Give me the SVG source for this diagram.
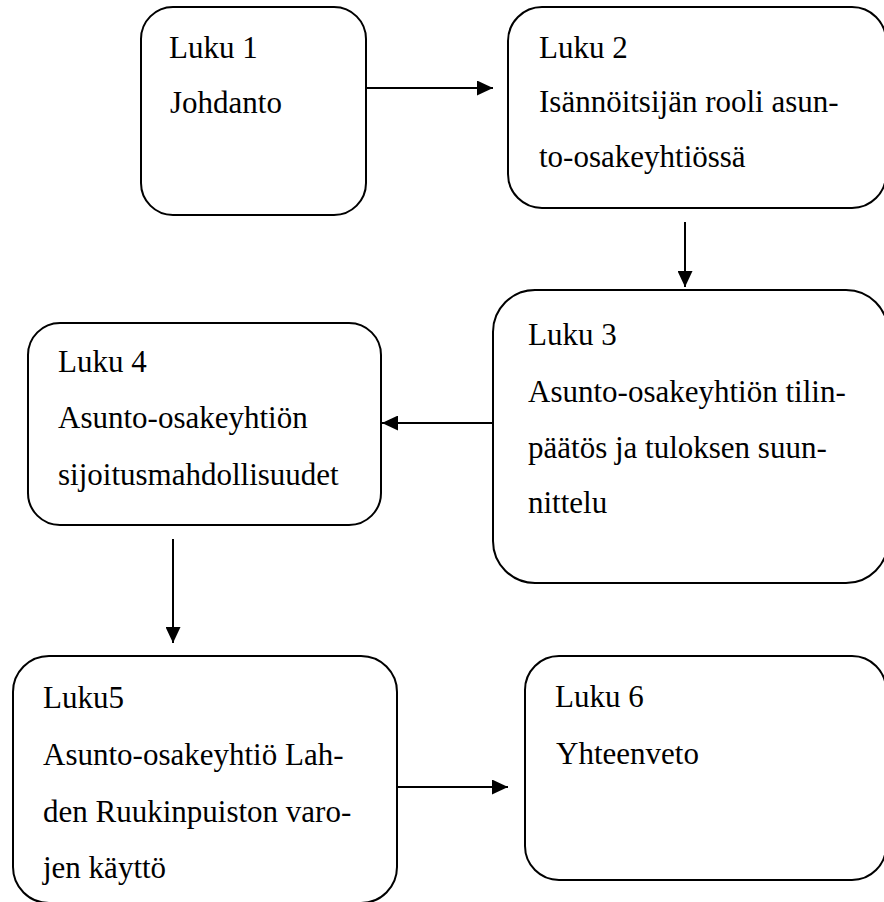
<svg xmlns="http://www.w3.org/2000/svg" width="884" height="902" viewBox="0 0 884 902">
<defs>
<marker id="ah" markerWidth="16" markerHeight="15" refX="16" refY="7.5" orient="auto" markerUnits="userSpaceOnUse">
<path d="M0,0 L16,7.5 L0,15 Z" fill="#000"/>
</marker>
</defs>
<rect width="884" height="902" fill="#fff"/>
<g id="connectors" stroke="#000" stroke-width="2" fill="none">
<line x1="366" y1="88" x2="493" y2="88" marker-end="url(#ah)"/>
<line x1="685" y1="222" x2="685" y2="287" marker-end="url(#ah)"/>
<line x1="493" y1="423" x2="382" y2="423" marker-end="url(#ah)"/>
<line x1="173" y1="539" x2="173" y2="643" marker-end="url(#ah)"/>
<line x1="397" y1="787" x2="508" y2="787" marker-end="url(#ah)"/>
</g>
<g id="node1">
<rect x="141" y="7" width="225" height="208" rx="32" ry="32" fill="#fff" stroke="#000" stroke-width="2"/>
<text x="169" y="58" font-family="Liberation Serif, Times New Roman, serif" font-size="31">Luku 1</text>
<text x="170" y="113" font-family="Liberation Serif, Times New Roman, serif" font-size="31">Johdanto</text>
</g>
<g id="node2">
<rect x="508" y="7" width="378" height="201" rx="34" ry="34" fill="#fff" stroke="#000" stroke-width="2"/>
<text x="539" y="58" font-family="Liberation Serif, Times New Roman, serif" font-size="31">Luku 2</text>
<text x="539" y="112" font-family="Liberation Serif, Times New Roman, serif" font-size="31">Isännöitsijän rooli asun-</text>
<text x="539" y="167" font-family="Liberation Serif, Times New Roman, serif" font-size="31">to-osakeyhtiössä</text>
</g>
<g id="node3">
<rect x="493" y="290" width="395" height="293" rx="42" ry="42" fill="#fff" stroke="#000" stroke-width="2"/>
<text x="528" y="345" font-family="Liberation Serif, Times New Roman, serif" font-size="31">Luku 3</text>
<text x="528" y="402" font-family="Liberation Serif, Times New Roman, serif" font-size="31">Asunto-osakeyhtiön tilin-</text>
<text x="528" y="458" font-family="Liberation Serif, Times New Roman, serif" font-size="31">päätös ja tuloksen suun-</text>
<text x="528" y="513" font-family="Liberation Serif, Times New Roman, serif" font-size="31">nittelu</text>
</g>
<g id="node4">
<rect x="28" y="323" width="353" height="202" rx="32" ry="32" fill="#fff" stroke="#000" stroke-width="2"/>
<text x="58" y="372" font-family="Liberation Serif, Times New Roman, serif" font-size="31">Luku 4</text>
<text x="58" y="428" font-family="Liberation Serif, Times New Roman, serif" font-size="31">Asunto-osakeyhtiön</text>
<text x="58" y="485" font-family="Liberation Serif, Times New Roman, serif" font-size="31">sijoitusmahdollisuudet</text>
</g>
<g id="node5">
<rect x="13" y="656" width="384" height="247" rx="36" ry="36" fill="#fff" stroke="#000" stroke-width="2"/>
<text x="43" y="708" font-family="Liberation Serif, Times New Roman, serif" font-size="31">Luku5</text>
<text x="43" y="765" font-family="Liberation Serif, Times New Roman, serif" font-size="31">Asunto-osakeyhtiö Lah-</text>
<text x="43" y="822" font-family="Liberation Serif, Times New Roman, serif" font-size="31">den Ruukinpuiston varo-</text>
<text x="43" y="878" font-family="Liberation Serif, Times New Roman, serif" font-size="31">jen käyttö</text>
</g>
<g id="node6">
<rect x="525" y="656" width="361" height="224" rx="34" ry="34" fill="#fff" stroke="#000" stroke-width="2"/>
<text x="555" y="707" font-family="Liberation Serif, Times New Roman, serif" font-size="31">Luku 6</text>
<text x="556" y="764" font-family="Liberation Serif, Times New Roman, serif" font-size="31">Yhteenveto</text>
</g>
</svg>
